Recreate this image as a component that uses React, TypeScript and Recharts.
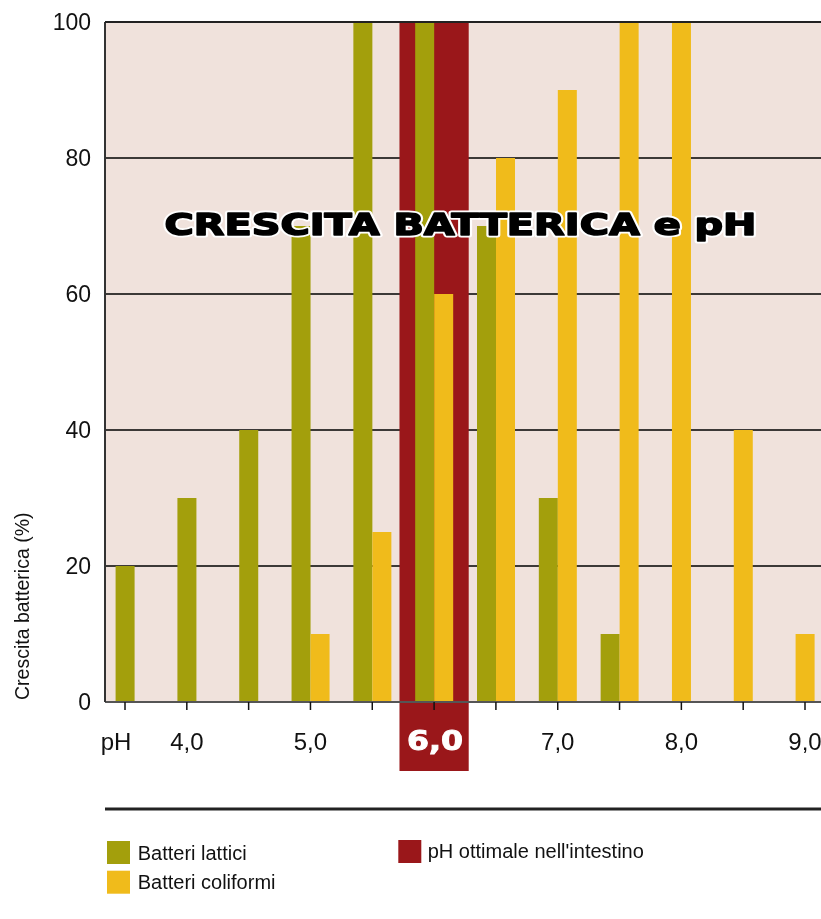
import React from 'react';
import { BarChart, Bar, XAxis, YAxis, CartesianGrid, ReferenceArea } from 'recharts';

const phValues = [3.5, 4.0, 4.5, 5.0, 5.5, 6.0, 6.5, 7.0, 7.5, 8.0, 8.5, 9.0];
const batteriLattici = [20, 30, 40, 70, 100, 100, 70, 30, 10, 0, 0, 0];
const batteriColiformi = [0, 0, 0, 10, 25, 60, 80, 90, 100, 100, 40, 10];
const yTicks = [0, 20, 40, 60, 80, 100];
const optimalRange = [5.72, 6.28];
const optimalPh = 6.0;

const seriesNames = ['Batteri lattici', 'Batteri coliformi'];
const optimalName = "pH ottimale nell'intestino";
const titleText = 'CRESCITA BATTERICA e pH';
const yAxisTitle = 'Crescita batterica (%)';

const data = phValues.map((ph, i) => ({
  ph,
  lattici: batteriLattici[i],
  coliformi: batteriColiformi[i],
}));

const GREEN = '#a39f0c';
const YELLOW = '#f0bb1b';
const RED = '#9a171a';
const BG = '#f0e2dc';
const FONT = "'Liberation Sans', Arial, sans-serif";
const HEAVY = "'DejaVu Sans', 'Liberation Sans', sans-serif";

const W = 813;
const H = 895;

const makeShape = (fill: string, otherKey: string, dir: number) => (props: any) => {
  const { x, y, width, height, payload } = props;
  if (!height || height <= 0) return <g />;
  const shift = payload && payload[otherKey] === 0 ? (dir * width) / 2 : 0;
  return <rect x={x + shift} y={y} width={width} height={height} fill={fill} />;
};

const XTick = (props: any) => {
  const { x, y, payload } = props;
  const v = payload.value;
  let label = '';
  if (v === phValues[0]) label = 'pH';
  else if (Number.isInteger(v)) label = v.toFixed(1).replace('.', ',');
  const isOpt = v === optimalPh;
  if (isOpt) {
    return (
      <text
        x={x + 1}
        y={y + 38}
        textAnchor="middle"
        fontFamily={HEAVY}
        fontWeight={900}
        fontSize={27}
        fill="#ffffff"
        stroke="#ffffff"
        strokeWidth={1}
        textLength={56}
        lengthAdjust="spacingAndGlyphs"
      >
        {label}
      </text>
    );
  }
  return (
    <text
      x={x + (v === phValues[0] ? -9 : 0)}
      y={y + 38}
      textAnchor="middle"
      fontFamily={FONT}
      fontSize={24}
      fill="#111"
    >
      {label}
    </text>
  );
};

const titleProps = {
  x: 452.5,
  y: 226.5,
  textAnchor: 'middle' as const,
  fontFamily: HEAVY,
  fontWeight: 900,
  fontSize: 31,
  textLength: 592,
  lengthAdjust: 'spacingAndGlyphs' as const,
  strokeLinejoin: 'round' as const,
};

export default function App() {
  return (
    <div style={{ position: 'fixed', left: 8, top: 8, width: W, height: H }}>
      <BarChart
        width={W}
        height={H}
        data={data}
        margin={{ top: 14, right: 0, left: 0, bottom: H - 694 - 60 }}
        barSize={19}
        barGap={0}
      >
        <CartesianGrid
          horizontal
          vertical={false}
          stroke="#000"
          strokeWidth={1.3}
          fill={BG}
          fillOpacity={1}
        />
        <ReferenceArea
          x1={optimalRange[0]}
          x2={optimalRange[1]}
          y1={-10.15}
          y2={100}
          fill={RED}
          fillOpacity={1}
          stroke="none"
          ifOverflow="visible"
        />
        <XAxis
          dataKey="ph"
          type="number"
          domain={[3.3382, 9.1294]}
          allowDataOverflow
          ticks={phValues}
          interval={0}
          height={60}
          tickSize={8}
          tick={<XTick />}
          axisLine={{ stroke: '#555', strokeWidth: 2 }}
          tickLine={{ stroke: '#111', strokeWidth: 1.5 }}
        />
        <YAxis
          type="number"
          domain={[0, 100]}
          ticks={yTicks}
          width={97}
          tickSize={0}
          tickMargin={14}
          axisLine={{ stroke: '#333', strokeWidth: 2 }}
          tickLine={false}
          tick={{ fontFamily: FONT, fontSize: 23, fill: '#111' }}
        />
        <Bar
          dataKey="lattici"
          name={seriesNames[0]}
          fill={GREEN}
          isAnimationActive={false}
          shape={makeShape(GREEN, 'coliformi', 1)}
        />
        <Bar
          dataKey="coliformi"
          name={seriesNames[1]}
          fill={YELLOW}
          isAnimationActive={false}
          shape={makeShape(YELLOW, 'lattici', -1)}
        />
      </BarChart>
      <svg
        width={W}
        height={H}
        style={{ position: 'absolute', left: 0, top: 0, pointerEvents: 'none' }}
      >
        <line x1={97} y1={14} x2={813} y2={14} stroke="#222" strokeWidth={2} />
        <text {...titleProps} fill="#fff" stroke="#fff" strokeWidth={5}>
          {titleText}
        </text>
        <text {...titleProps} fill="#000" stroke="#000" strokeWidth={1.6}>
          {titleText}
        </text>
        <text
          x={21}
          y={692}
          transform="rotate(-90, 21, 692)"
          textAnchor="start"
          fontFamily={FONT}
          fontSize={19.5}
          fill="#111"
        >
          {yAxisTitle}
        </text>
        <line x1={97} y1={801} x2={813} y2={801} stroke="#222" strokeWidth={3} />
        <rect x={99} y={833} width={23} height={23} fill={GREEN} />
        <text x={129.7} y={852} fontFamily={FONT} fontSize={20} fill="#111">
          {seriesNames[0]}
        </text>
        <rect x={99} y={862.7} width={23} height={23} fill={YELLOW} />
        <text x={129.7} y={881.3} fontFamily={FONT} fontSize={20} fill="#111">
          {seriesNames[1]}
        </text>
        <rect x={390.3} y={832} width={23} height={23} fill={RED} />
        <text x={419.7} y={850} fontFamily={FONT} fontSize={20} fill="#111">
          {optimalName}
        </text>
      </svg>
    </div>
  );
}
